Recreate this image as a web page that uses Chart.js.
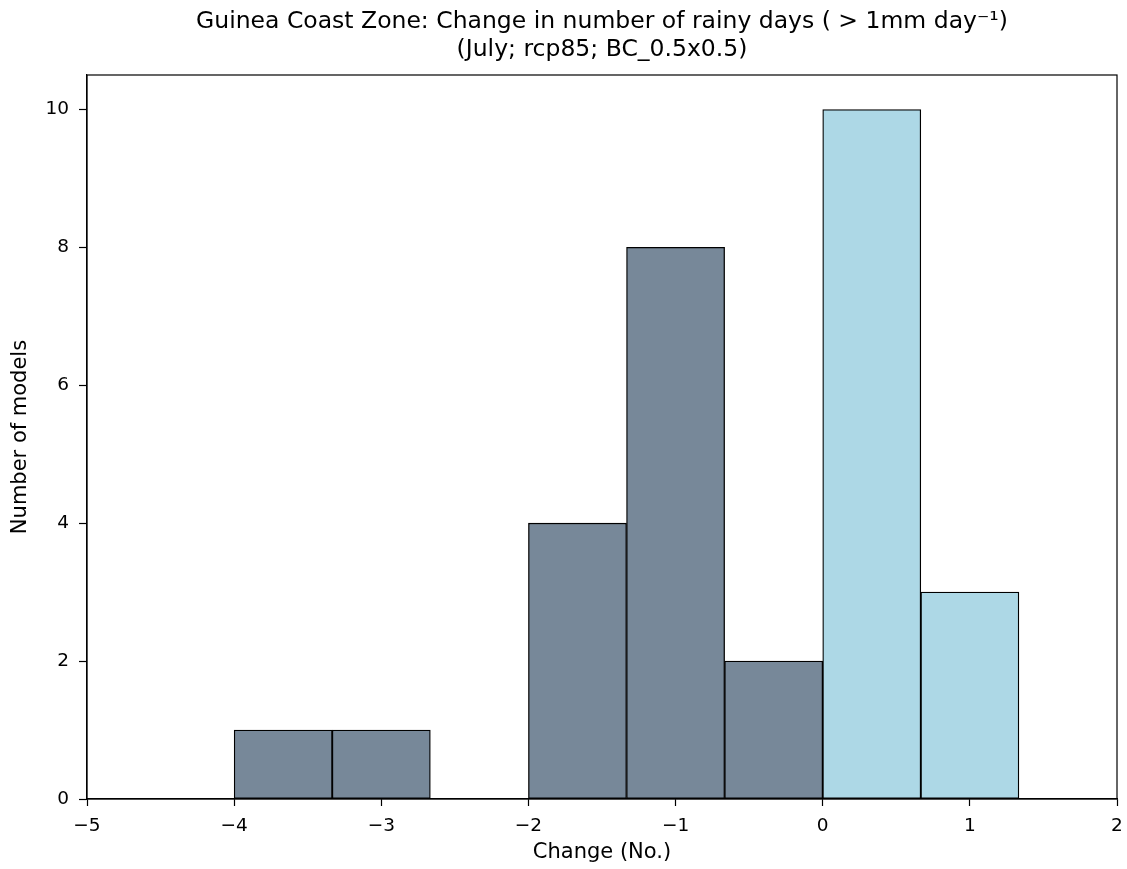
<!DOCTYPE html>
<html>
<head>
<meta charset="utf-8">
<script src="https://cdn.jsdelivr.net/npm/chart.js@4/dist/chart.umd.min.js"></script>
<style>
  html, body { margin: 0; padding: 0; background: #ffffff; }
  #wrap { width: 1127px; height: 869px; position: relative; }
</style>
</head>
<body>
<div id="wrap"><canvas id="c" width="1127" height="869"></canvas></div>
<script>
// ---- data ----
const binStarts = [-4, -3.3333, -2.6667, -2, -1.3333, -0.6667, 0, 0.6667];
const binWidth = 0.6667;
const modelCounts = [1, 1, 0, 4, 8, 2, 10, 3];
const xTickValues = [-5, -4, -3, -2, -1, 0, 1, 2];
const yTickValues = [0, 2, 4, 6, 8, 10];
const titleLines = [
  'Guinea Coast Zone: Change in number of rainy days ( > 1mm day\u207B\u00B9)',
  '(July; rcp85; BC_0.5x0.5)'
];
const xLabel = 'Change (No.)';
const yLabel = 'Number of models';

const FONT = "'DejaVu Sans', 'Liberation Sans', sans-serif";
const dryColor = '#778899';
const wetColor = '#ADD8E6';

const points = binStarts.map((s, i) => ({ x: s + binWidth / 2, y: modelCounts[i] }));
const colors = binStarts.map(s => (s + binWidth / 2) < 0 ? dryColor : wetColor);

const framePlugin = {
  id: 'frame',
  afterDatasetsDraw(chart) {
    const { ctx, chartArea: a } = chart;
    ctx.save();
    ctx.strokeStyle = '#000';
    ctx.lineWidth = 1.2;
    ctx.strokeRect(a.left, a.top, a.right - a.left, a.bottom - a.top);
    ctx.restore();
  }
};

new Chart(document.getElementById('c'), {
  type: 'bar',
  data: {
    datasets: [{
      data: points,
      backgroundColor: colors,
      borderColor: '#000000',
      borderWidth: 1.3,
      borderSkipped: false,
      barPercentage: 1.0,
      categoryPercentage: 1.0
    }]
  },
  options: {
    responsive: false,
    animation: false,
    layout: { padding: { left: 0, right: 10, top: 0, bottom: 0 } },
    plugins: {
      legend: { display: false },
      tooltip: { enabled: false },
      title: {
        display: true,
        fullSize: false,
        text: titleLines,
        color: '#000',
        font: { family: FONT, size: 23.5, weight: 'normal', lineHeight: 1.2 },
        padding: { top: 8, bottom: 10.6 }
      }
    },
    scales: {
      x: {
        type: 'linear',
        offset: false,
        min: -5, max: 2,
        afterFit(s) { s.height = 70; s.paddingLeft = 0; s.paddingRight = 0; },
        afterBuildTicks(s) { s.ticks = xTickValues.map(v => ({ value: v })); },
        ticks: {
          color: '#000',
          font: { family: FONT, size: 18.5 },
          padding: 9,
          callback: v => (v < 0 ? '\u2212' + Math.abs(v) : String(v))
        },
        grid: { offset: false, drawOnChartArea: false, drawTicks: true, tickLength: 7, tickColor: '#000', tickWidth: 1.2 },
        border: { display: true, color: '#000', width: 1.2 },
        title: {
          display: true, text: xLabel, color: '#000',
          font: { family: FONT, size: 21 },
          padding: { top: 0, bottom: 4 }
        }
      },
      y: {
        type: 'linear',
        min: 0, max: 10.5,
        afterFit(s) { s.width = 87; s.paddingTop = 0; s.paddingBottom = 0; },
        afterBuildTicks(s) { s.ticks = yTickValues.map(v => ({ value: v })); },
        ticks: {
          color: '#000',
          font: { family: FONT, size: 18.5 },
          padding: 10
        },
        grid: { drawOnChartArea: false, drawTicks: true, tickLength: 8, tickColor: '#000', tickWidth: 1.2 },
        border: { display: true, color: '#000', width: 1.2 },
        title: {
          display: true, text: yLabel, color: '#000',
          font: { family: FONT, size: 21 },
          padding: { top: 8, bottom: 0 }
        }
      }
    }
  },
  plugins: [framePlugin]
});
</script>
</body>
</html>
